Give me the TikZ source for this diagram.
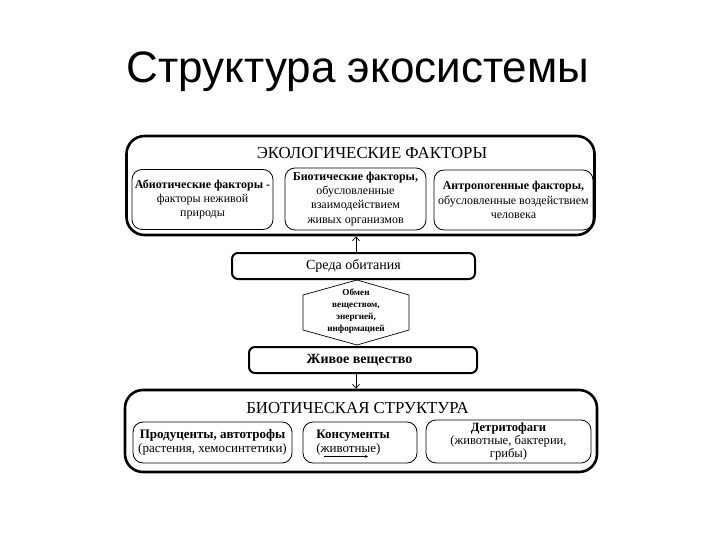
\documentclass[tikz,border=0pt]{standalone}
\usepackage{fontspec}
\setmainfont{Liberation Serif}
\newfontfamily\titlefont{Liberation Sans}
\usetikzlibrary{arrows.meta}
\begin{document}
\begin{tikzpicture}[x=1pt,y=-1pt,
  outerbox/.style={draw, line width=2.6pt, rounded corners=18pt, inner sep=0pt},
  innerbox/.style={draw, line width=0.8pt, rounded corners=10pt, inner sep=0pt, align=center,
     font=\fontsize{12}{14.2}\selectfont},
  lowbox/.style={innerbox, font=\fontsize{13}{14}\selectfont},
  midbox/.style={draw, line width=2pt, rounded corners=6pt, inner sep=0pt},
  header/.style={font=\fontsize{16.8}{18}\selectfont},
  midtext/.style={font=\fontsize{14}{16}\selectfont},
  conn/.style={line width=0.7pt, -{Straight Barb[length=4pt,width=7pt]}},
]
\useasboundingbox[fill=white] (0,0) rectangle (720,540);

% title
\node[font=\titlefont\fontsize{44}{50}\selectfont, anchor=base, inner sep=0pt] (title) at (358,83) {Структура экосистемы};

% ecological factors
\node[outerbox, minimum width=468pt, minimum height=99pt] (eco) at (360.5,185.5) {};
\node[header] (ecot) at (372,153) {ЭКОЛОГИЧЕСКИЕ ФАКТОРЫ};
\node[innerbox, minimum width=141pt, minimum height=60pt] (abio) at (202.5,199.5)
  {\textbf{Абиотические факторы -}\\факторы неживой\\природы};
\node[innerbox, minimum width=141pt, minimum height=62pt] (bio1) at (355.5,199)
  {\textbf{Биотические факторы,}\\обусловленные\\взаимодействием\\живых организмов};
\node[innerbox, minimum width=159pt, minimum height=60pt] (anthro) at (513.5,200)
  {\textbf{Антропогенные факторы,}\\обусловленные воздействием\\человека};

% habitat
\node[midbox, minimum width=243pt, minimum height=26pt, midtext] (sreda) at (353.5,266) {Среда обитания};

% exchange
\node[align=center, inner sep=0pt, font=\bfseries\fontsize{9.2}{11.8}\selectfont] (exch) at (356,311)
  {Обмен\\веществом,\\энергией,\\информацией};
\draw[line width=0.7pt] (357,280) -- (409,295) -- (409,330) -- (357,345) -- (303,330) -- (303,295) -- cycle;

% living matter
\node[midbox, minimum width=228pt, minimum height=26pt, font=\bfseries\fontsize{14}{16}\selectfont] (zhiv) at (363,360) {\hspace{-7pt}Живое вещество};

% biotic structure
\node[outerbox, minimum width=472pt, minimum height=82pt] (biost) at (361,431) {};
\node[header] (biot) at (357.5,408) {БИОТИЧЕСКАЯ СТРУКТУРА};
\node[lowbox, minimum width=159pt, minimum height=41pt] (prod) at (212.5,442.5)
  {\textbf{Продуценты, автотрофы}\\(растения, хемосинтетики)};
\node[lowbox, minimum width=114pt, minimum height=41pt, align=left] (kons) at (360,442.5)
  {\hspace{-14pt}\textbf{Консументы}\\\hspace{-14pt}(животные)};
\node[lowbox, minimum width=165pt, minimum height=43pt, font=\fontsize{12.6}{13.4}\selectfont] (detr) at (508.5,441.5)
  {\textbf{Детритофаги}\\(животные, бактерии,\\грибы)};

% connectors
\draw[conn] (sreda.north -| exch) -- (eco.south -| exch);
\draw[conn] (zhiv.south -| exch) -- (biost.north -| exch);
\draw[line width=0.6pt, -{Stealth[length=3pt,width=3pt]}] ([xshift=-36pt,yshift=7pt]kons.south) -- ([xshift=8pt,yshift=7pt]kons.south);
\end{tikzpicture}
\end{document}
